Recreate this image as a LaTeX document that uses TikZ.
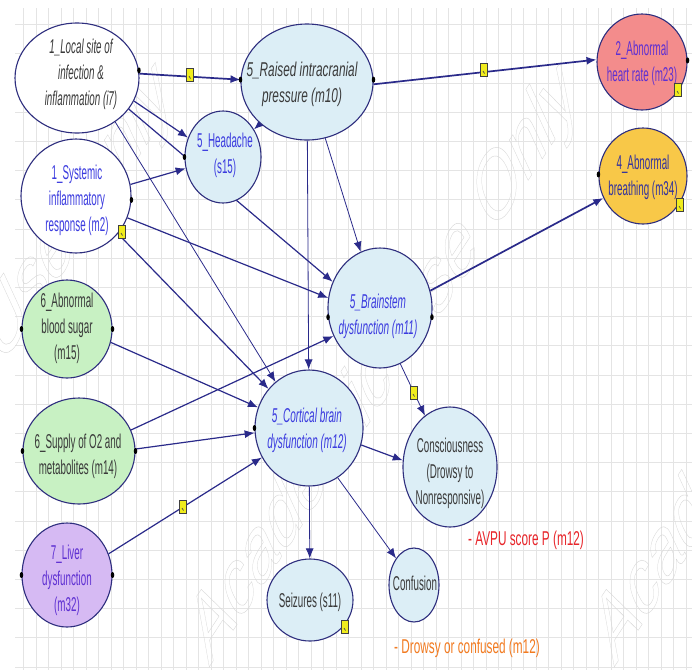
\documentclass[tikz,border=0pt]{standalone}
\usepackage{fontspec}
\setmainfont{Liberation Sans}
\usepackage{graphicx}
\usetikzlibrary{arrows.meta,shapes.geometric}

% palette
\definecolor{nodeblue}{HTML}{DCEEF6}
\definecolor{nodegreen}{HTML}{C8F1C3}
\definecolor{nodepink}{HTML}{F38C8C}
\definecolor{nodeyellow}{HTML}{F8C848}
\definecolor{nodepurple}{HTML}{D6BAF3}
\definecolor{rim}{HTML}{2E2E7E}
\definecolor{wire}{HTML}{2A2A8A}
\definecolor{inkgray}{HTML}{3A3A3A}
\definecolor{inkblue}{HTML}{3B3BDF}
\definecolor{inkviolet}{HTML}{5E30D2}
\definecolor{inkindigo}{HTML}{32329E}
\definecolor{avpured}{HTML}{E8262B}
\definecolor{drowsyorange}{HTML}{F27B21}
\definecolor{gridline}{HTML}{E4E4E4}
\definecolor{notefill}{HTML}{F0EC1C}

\pgfdeclarelayer{grid}
\pgfdeclarelayer{wires}
\pgfsetlayers{grid,wires,main}

% condensed multi-line caption
\newcommand\nodelines[2]{\scalebox{#1}[1]{\begin{tabular}{@{}c@{}}#2\end{tabular}}}

\tikzset{
  bubble/.style={ellipse, draw=rim, line width=1.1pt, inner sep=0pt},
  caption/.style={inner sep=0pt, font=\fontsize{20}{26}\selectfont},
  link/.style={draw=wire, line width=1.2pt, -{Latex[length=10pt,width=8pt]}},
  thin link/.style={link, line width=0.8pt},
  bold link/.style={link, line width=1.7pt},
  note/.style={rectangle, draw=black!75, fill=notefill, line width=0.6pt,
    minimum width=6.5pt, minimum height=13pt, inner sep=0pt,
    path picture={\draw[black!70, line width=0.7pt]
      ([xshift=-1pt,yshift=-1pt]path picture bounding box.center) -- ++(1.5pt,-2.5pt);}},
  handle/.style={ellipse, fill=black, inner sep=0pt, minimum width=3.5pt, minimum height=6pt},
  watermark/.style={transform shape, inner sep=0pt, font=\fontsize{100}{100}\selectfont},
}

\begin{document}
\begin{tikzpicture}[x=1pt,y=-1pt]
\useasboundingbox (0,0) rectangle (692,670);

% paper and grid
\begin{pgfonlayer}{grid}
  \fill[white] (0,0) rectangle (692,670);
  \foreach \k in {0,...,53} \draw[gridline, line width=0.6pt] ({23.3+12.5*\k},8) -- ({23.3+12.5*\k},670);
  \foreach \k in {0,...,22} \draw[gridline, line width=0.6pt] (15,{24.4+29.2*\k}) -- (692,{24.4+29.2*\k});
  \begin{scope}
    \clip (0,0) rectangle (692,670);
    \foreach \cx/\nm in {385/wmA, 790/wmB, -20/wmC} {
      \begin{scope}[shift={(\cx,365)}, xscale=0.55]
        \node[watermark, rotate=40] (\nm) at (0,0)
          {\special{pdf:literal direct 1 Tr 0.45 w 0.84 G}Academic Use Only\special{pdf:literal direct 0 Tr}};
      \end{scope}
    }
  \end{scope}
\end{pgfonlayer}

% variables
\node[bubble, fill=white,      minimum width=124pt, minimum height=110pt] (i7)   at (77,78)   {};
\node[bubble, fill=nodeblue,   minimum width=132pt, minimum height=116pt] (m10)  at (307,82)  {};
\node[bubble, fill=nodeblue,   minimum width=76pt,  minimum height=92pt]  (s15)  at (223,157) {};
\node[bubble, fill=white,      minimum width=110pt, minimum height=114pt] (m2)   at (76,196)  {};
\node[bubble, fill=nodepink,   minimum width=90pt,  minimum height=96pt]  (m23)  at (642,62)  {};
\node[bubble, fill=nodeyellow, minimum width=88pt,  minimum height=96pt]  (m34)  at (643,176) {};
\node[bubble, fill=nodeblue,   minimum width=104pt, minimum height=120pt] (m11)  at (380,308) {};
\node[bubble, fill=nodegreen,  minimum width=90pt,  minimum height=98pt]  (m15)  at (67,329)  {};
\node[bubble, fill=nodegreen,  minimum width=112pt, minimum height=106pt] (m14)  at (79,451)  {};
\node[bubble, fill=nodepurple, minimum width=90pt,  minimum height=104pt] (m32)  at (67,575)  {};
\node[bubble, fill=nodeblue,   minimum width=108pt, minimum height=116pt] (m12)  at (309,428) {};
\node[bubble, fill=nodeblue,   minimum width=94pt,  minimum height=120pt] (cons) at (450,467) {};
\node[bubble, fill=nodeblue,   minimum width=50pt,  minimum height=74pt]  (conf) at (414,585) {};
\node[bubble, fill=nodeblue,   minimum width=86pt,  minimum height=82pt]  (seiz) at (310,600) {};

% captions
\node[caption, text=inkgray]   (i7-t)   at (81,74)   {\itshape\nodelines{0.49}{1\_Local site of\\infection \&\\inflammation (i7)}};
\node[caption, text=inkgray]   (m10-t)  at (302,84)  {\itshape\nodelines{0.59}{5\_Raised intracranial\\pressure (m10)}};
\node[caption, text=inkblue]   (s15-t)  at (225,155) {\nodelines{0.49}{5\_Headache\\(s15)}};
\node[caption, text=inkblue]   (m2-t)   at (77,200)  {\nodelines{0.49}{1\_Systemic\\inflammatory\\response (m2)}};
\node[caption, text=inkviolet] (m23-t)  at (642,63)  {\nodelines{0.49}{2\_Abnormal\\heart rate (m23)}};
\node[caption, text=inkindigo] (m34-t)  at (643,177) {\nodelines{0.49}{4\_Abnormal\\breathing (m34)}};
\node[caption, text=inkblue]   (m11-t)  at (378,316) {\itshape\nodelines{0.5}{5\_Brainstem\\dysfunction (m11)}};
\node[caption, text=inkgray]   (m15-t)  at (67,328)  {\nodelines{0.49}{6\_Abnormal\\blood sugar\\(m15)}};
\node[caption, text=inkgray]   (m14-t)  at (78,456)  {\nodelines{0.49}{6\_Supply of O2 and\\metabolites (m14)}};
\node[caption, text=inkviolet] (m32-t)  at (67,580)  {\nodelines{0.49}{7\_Liver\\dysfunction\\(m32)}};
\node[caption, text=inkblue]   (m12-t)  at (307,430) {\itshape\nodelines{0.5}{5\_Cortical brain\\dysfunction (m12)}};
\node[caption, text=inkgray]   (cons-t) at (450,473) {\nodelines{0.49}{Consciousness\\(Drowsy to\\Nonresponsive)}};
\node[caption, text=inkgray]   (conf-t) at (415,585) {\nodelines{0.49}{Confusion}};
\node[caption, text=inkgray]   (seiz-t) at (310,602) {\nodelines{0.49}{Seizures (s11)}};

% free annotations
\node[caption, text=avpured]      (avpu)   at (526,540) {\nodelines{0.59}{- AVPU score P (m12)}};
\node[caption, text=drowsyorange] (drowsy) at (467,648) {\nodelines{0.59}{- Drowsy or confused (m12)}};

% dependencies
\begin{pgfonlayer}{wires}
  \draw[bold link] (i7.4)   -- (m10.178);
  \draw[link]      (i7.-22) -- (s15.151);
  \draw[link]      (i7.-31) -- (m11.151);
  \draw[thin link] (i7.-49) -- (m12.126);
  \draw[link]      (m2.12)  -- (s15.197);
  \draw[link]      (m10)    -- (s15);
  \draw[bold link] (m10.-2) -- (m23.177);
  \draw[thin link] (m10.-72) -- (m11.109);
  \draw[thin link] (m10)    -- (m12);
  \draw[link]      (m2.-23) -- (m11.169);
  \draw[link]      (m2.-42) -- (m12.136);
  \draw[link]      (m15.-17) -- (m12.158);
  \draw[link]      (m14.22) -- (m11.211);
  \draw[link]      (m14.2)  -- (m12.185);
  \draw[link]      (m32.27) -- (m12.212);
  \draw[bold link] (m11.19) -- (m34.209);
  \draw[thin link] (m11.-70) -- (cons.116);
  \draw[link]      (m12.-18) -- (cons.172);
  \draw[thin link] (m12.-60) -- (conf.124);
  \draw[thin link] (m12)    -- (seiz);
\end{pgfonlayer}

% connection handles on the rims
\node[handle] (h1)  at (i7.7)    {};
\node[handle] (h2)  at (m10.178) {};
\node[handle] (h3)  at (m10.2)   {};
\node[handle] (h4)  at (m2.-4)   {};
\node[handle] (h5)  at (s15.180) {};
\node[handle] (h6)  at (m23.2)   {};
\node[handle] (h7)  at (m34.178) {};
\node[handle] (h8)  at (m11.-10) {};
\node[handle] (h9)  at (m11.190) {};
\node[handle] (h10) at (m15.180) {};
\node[handle] (h11) at (m15.0)   {};
\node[handle] (h12) at (m14.180) {};
\node[handle] (h13) at (m14.0)   {};
\node[handle] (h14) at (m32.180) {};
\node[handle] (h15) at (m32.0)   {};
\node[handle] (h16) at (m12.180) {};

% note markers
\node[note] (n1) at (190,75)  {};
\node[note] (n2) at (484,70)  {};
\node[note] (n3) at (122,232) {};
\node[note] (n4) at (678,90)  {};
\node[note] (n5) at (680,205) {};
\node[note] (n6) at (414,393) {};
\node[note] (n7) at (183,507) {};
\node[note] (n8) at (345,627) {};
\end{tikzpicture}
\end{document}
